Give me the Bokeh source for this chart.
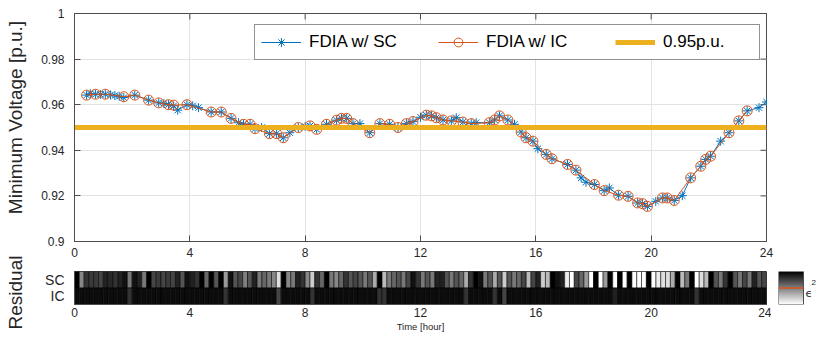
import numpy as np
from bokeh.plotting import figure
from bokeh.layouts import column, row
from bokeh.core.properties import value
from bokeh.models import (Range1d, FactorRange, FixedTicker, CustomJSTickFormatter,
                          Legend, LegendItem, LinearColorMapper, ColumnDataSource)
from bokeh.embed import file_html
from bokeh.resources import INLINE

# ---------------- data ----------------
t_sc = [0.42, 0.55, 0.73, 0.9, 1.07, 1.25, 1.4, 1.55, 1.71, 2.09, 2.57, 2.92, 3.1, 3.26, 3.44,
        3.58, 3.9, 4.1, 4.3, 4.74, 5.09, 5.43, 5.69, 5.86, 6.09, 6.26, 6.49, 6.76, 7.01, 7.24,
        7.47, 7.76, 8.0, 8.17, 8.4, 8.74, 9.09, 9.26, 9.44, 9.66, 9.9, 10.24, 10.59, 10.93,
        11.22, 11.51, 11.74, 12.0, 12.2, 12.38, 12.55, 12.78, 13.07, 13.24, 13.47, 13.76,
        13.93, 14.39, 14.57, 14.74, 15.03, 15.26, 15.49, 15.66, 15.9, 16.07, 16.36, 16.56,
        17.1, 17.39, 17.57, 17.74, 18.03, 18.37, 18.55, 18.87, 19.2, 19.53, 19.7, 19.87,
        20.16, 20.39, 20.56, 20.8, 21.08, 21.37, 21.72, 21.89, 22.06, 22.41, 22.7, 23.04,
        23.33, 23.74, 24.0]
v_sc = [0.9642, 0.9648, 0.9646, 0.9645, 0.9646, 0.9643, 0.9640, 0.9637, 0.9631, 0.9642,
        0.9620, 0.9608, 0.9605, 0.9600, 0.9595, 0.9576, 0.9600, 0.9595, 0.9587, 0.9568,
        0.9568, 0.9540, 0.9521, 0.9514, 0.9514, 0.9495, 0.9500, 0.9473, 0.9473, 0.9455,
        0.9477, 0.9500, 0.9505, 0.9507, 0.9492, 0.9514, 0.9532, 0.9540, 0.9540, 0.9517,
        0.9517, 0.9477, 0.9517, 0.9514, 0.9500, 0.9517, 0.9526, 0.9545, 0.9554, 0.9551,
        0.9543, 0.9533, 0.9529, 0.9543, 0.9524, 0.9517, 0.9521, 0.9521, 0.9533, 0.9551,
        0.9533, 0.9514, 0.9480, 0.9455, 0.9440, 0.9407, 0.9382, 0.9363, 0.9338, 0.9313,
        0.9279, 0.9260, 0.9250, 0.9223, 0.9235, 0.9203, 0.9198, 0.9169, 0.9166, 0.9154,
        0.9176, 0.9191, 0.9191, 0.9180, 0.9201, 0.9279, 0.9330, 0.9360, 0.9374, 0.9440,
        0.9477, 0.9529, 0.9573, 0.9587, 0.9612]

t_ic = [0.42, 0.73, 1.07, 1.71, 2.09, 2.57, 2.92, 3.26, 3.44, 3.9, 4.74, 5.09, 5.43, 5.86,
        6.09, 6.26, 6.76, 7.01, 7.24, 7.76, 8.17, 8.4, 8.74, 9.09, 9.26, 9.44, 9.66, 10.24,
        10.59, 10.93, 11.22, 11.51, 11.74, 12.2, 12.38, 12.55, 12.78, 13.07, 13.47, 13.76,
        14.39, 14.57, 14.74, 15.03, 15.49, 15.66, 15.9, 16.36, 16.56, 17.1, 17.39, 18.03,
        18.37, 18.87, 19.2, 19.53, 19.7, 19.87, 20.39, 20.56, 20.8, 21.37, 21.72, 21.89,
        22.06, 22.7, 23.04, 23.33]
v_ic = [0.9642, 0.9646, 0.9646, 0.9635, 0.9642, 0.9620, 0.9608, 0.9600, 0.9598, 0.9600,
        0.9568, 0.9568, 0.9540, 0.9514, 0.9514, 0.9495, 0.9473, 0.9473, 0.9455, 0.9500,
        0.9507, 0.9492, 0.9514, 0.9532, 0.9540, 0.9540, 0.9517, 0.9477, 0.9517, 0.9514,
        0.9500, 0.9517, 0.9526, 0.9554, 0.9551, 0.9543, 0.9533, 0.9529, 0.9524, 0.9517,
        0.9521, 0.9533, 0.9551, 0.9533, 0.9480, 0.9455, 0.9440, 0.9382, 0.9363, 0.9338,
        0.9313, 0.9250, 0.9223, 0.9203, 0.9198, 0.9169, 0.9166, 0.9154, 0.9191, 0.9191,
        0.9180, 0.9279, 0.9330, 0.9360, 0.9374, 0.9477, 0.9529, 0.9573]

threshold = 0.95
t_start, t_end = 0, 24
v_min, v_max = 0.9, 1.0
x_ticks = [0, 4, 8, 12, 16, 20, 24]
y_ticks = [0.9, 0.92, 0.94, 0.96, 0.98, 1.0]

# residual heat map, 10-minute bins (normalised eps^2, 1 = largest)
bins_per_hour = 6
residual_rows = ["IC", "SC"]
sc_residual = [1.0, 0.47, 0.8, 0.77, 0.77, 0.73, 0.87, 0.84, 0.8, 0.87, 0.93, 0.53, 0.93,
               0.87, 0.53, 1.0, 0.73, 0.77, 0.73, 0.77, 0.73, 0.87, 0.67, 0.93, 0.87, 0.8,
               1.0, 0.6, 1.0, 0.67, 1.0, 0.4, 0.93, 0.67, 0.73, 0.5, 0.67, 0.87, 0.53, 0.6,
               0.53, 0.47, 0.13, 1.0, 0.47, 0.53, 0.87, 0.8, 0.47, 0.2, 0.8, 0.6, 1.0, 0.53,
               0.47, 0.6, 0.8, 0.67, 0.73, 0.67, 0.53, 0.67, 0.33, 1.0, 0.27, 0.53, 0.6, 0.67,
               0.53, 0.73, 0.93, 0.8, 0.53, 0.67, 0.53, 0.87, 0.87, 0.67, 0.53, 0.67, 0.6,
               0.33, 0.8, 1.0, 0.93, 0.53, 0.67, 0.33, 0.67, 0.2, 0.67, 0.53, 0.6, 0.73, 0.27,
               0.73, 0.87, 0.2, 0.27, 1.0, 0.93, 0.87, 0.07, 0.0, 0.73, 0.6, 0.4, 0.0, 1.0,
               0.0, 0.4, 1.0, 0.0, 1.0, 0.0, 1.0, 0.0, 0.0, 0.0, 1.0, 0.0, 0.07, 0.13, 0.13,
               0.33, 1.0, 0.27, 0.53, 1.0, 0.0, 0.13, 0.27, 1.0, 0.67, 0.53, 0.8, 1.0, 0.67,
               0.53, 0.73, 0.53, 0.87, 0.67, 0.73]
ic_residual = [0.95] * 144
for k, v in {11: 0.8, 31: 0.8, 42: 0.73, 49: 0.8, 63: 0.8, 64: 0.8, 81: 0.8, 87: 0.8,
             89: 0.73, 112: 0.87, 129: 0.8}.items():
    ic_residual[k] = v
residual_threshold = 0.5

# ---------------- style ----------------
BLUE = "#0072BD"
ORANGE = "#D95319"
YELLOW = "#EDB120"
AX = "#4d4d4d"
TXT = "#262626"
FONT = "Liberation Sans"


def style_axis(ax, size="12px"):
    ax.axis_line_color = AX
    ax.major_tick_line_color = AX
    ax.minor_tick_line_color = None
    ax.major_tick_out = 0
    ax.major_label_text_font = FONT
    ax.major_label_text_font_size = size
    ax.major_label_text_color = TXT


# ---------------- left label strip ----------------
lab = figure(frame_width=30, frame_height=331, x_range=Range1d(0, 30),
             y_range=Range1d(331, 0), output_backend="svg", toolbar_location=None,
             min_border_left=0, min_border_right=0, min_border_top=0, min_border_bottom=0)
lab.axis.visible = False
lab.grid.visible = False
lab.outline_line_color = None
lab.text(x=[15, 15], y=[117, 292], text=["Minimum Voltage [p.u.]", "Residual"],
         angle=np.pi / 2, text_align="center", text_baseline="middle",
         text_font=value(FONT), text_font_size="19px", text_color=TXT)

# ---------------- main plot ----------------
p1 = figure(frame_width=692, frame_height=228, x_range=Range1d(t_start, t_end),
            y_range=Range1d(v_min, v_max), output_backend="svg", toolbar_location=None,
            min_border_left=44, min_border_right=12, min_border_top=13, min_border_bottom=22)
p1.outline_line_color = AX
p1.xaxis.ticker = FixedTicker(ticks=x_ticks)
p1.yaxis.ticker = FixedTicker(ticks=y_ticks)
p1.yaxis.formatter = CustomJSTickFormatter(code="return String(parseFloat(tick.toFixed(2)));")
style_axis(p1.xaxis[0])
style_axis(p1.yaxis[0])
p1.xaxis.major_tick_in = 6
p1.yaxis.major_tick_in = 6
p1.xaxis.major_label_standoff = 6
p1.yaxis.major_label_standoff = 10
p1.xgrid.grid_line_color = "#e3e3e3"
p1.ygrid.grid_line_color = "#e3e3e3"
# inward ticks on the top and right edges of the box
p1.scatter(x_ticks, [v_max] * len(x_ticks), marker="dash", angle=np.pi / 2, size=12,
           line_color=AX, line_width=1)
p1.scatter([t_end] * len(y_ticks), y_ticks, marker="dash", size=12, line_color=AX, line_width=1)

r_sc_line = p1.line(t_sc, v_sc, line_color=BLUE, line_width=1)
r_sc_mark = p1.scatter(t_sc, v_sc, marker="asterisk", size=9, line_color=BLUE, line_width=1)
r_ic_line = p1.line(t_ic, v_ic, line_color=ORANGE, line_width=1)
r_ic_mark = p1.scatter(t_ic, v_ic, marker="circle", size=10, line_color=ORANGE,
                       fill_color=None, line_width=1)
r_thr = p1.line([t_start, t_end], [threshold, threshold], line_color=YELLOW, line_width=5)

legend = Legend(items=[LegendItem(label="FDIA w/ SC", renderers=[r_sc_line, r_sc_mark]),
                       LegendItem(label="FDIA w/ IC", renderers=[r_ic_line, r_ic_mark]),
                       LegendItem(label="0.95p.u.", renderers=[r_thr])],
                location=(180, 181), orientation="horizontal",
                label_text_font=FONT, label_text_font_size="17px", label_text_color="#000000",
                glyph_width=40, glyph_height=22, label_standoff=8, label_width=90,
                label_height=22, spacing=39, padding=6, margin=0,
                border_line_color="#262626", border_line_width=1)
p1.add_layout(legend)

# ---------------- residual heat map ----------------
n_bins = len(sc_residual)
centers = [(i + 0.5) / bins_per_hour for i in range(n_bins)]
palette = ["#%02x%02x%02x" % (c, c, c) for c in range(255, -1, -1)]  # low=white, high=black
mapper = LinearColorMapper(palette=palette, low=0, high=1)
src = ColumnDataSource(dict(x=centers + centers,
                            y=["SC"] * n_bins + ["IC"] * n_bins,
                            res=sc_residual + ic_residual))

p2 = figure(frame_width=692, frame_height=33, x_range=Range1d(t_start, t_end),
            y_range=FactorRange(factors=residual_rows), output_backend="svg",
            toolbar_location=None, min_border_left=44, min_border_right=5,
            min_border_top=8, min_border_bottom=27)
p2.rect(x="x", y="y", width=1 / bins_per_hour, height=1, source=src,
        fill_color={"field": "res", "transform": mapper}, line_color="#000000",
        line_width=1, line_alpha=0.55)
p2.outline_line_color = AX
p2.grid.visible = False
p2.xaxis.ticker = FixedTicker(ticks=x_ticks)
style_axis(p2.xaxis[0])
style_axis(p2.yaxis[0], "14px")
p2.xaxis.major_tick_in = 0
p2.yaxis.major_tick_in = 0
p2.xaxis.major_label_standoff = 3
p2.yaxis.major_label_standoff = 10
p2.xaxis.axis_label = "Time [hour]"
p2.xaxis.axis_label_text_font = FONT
p2.xaxis.axis_label_text_font_style = "normal"
p2.xaxis.axis_label_text_color = TXT
p2.xaxis.axis_label_text_font_size = "9.5px"
p2.xaxis.axis_label_standoff = 1

# ---------------- colour bar ----------------
p3 = figure(frame_width=40, frame_height=33, x_range=Range1d(0, 40), y_range=Range1d(0, 1),
            output_backend="svg", toolbar_location=None, min_border_left=7,
            min_border_right=1, min_border_top=8, min_border_bottom=27)
p3.axis.visible = False
p3.grid.visible = False
p3.outline_line_color = None
grad = np.linspace(0, 1, 128).reshape(128, 1)
p3.image(image=[grad], x=0, y=0, dw=25, dh=1, color_mapper=mapper)
p3.quad(left=[0], right=[25], bottom=[0], top=[1], fill_color=None, line_color=AX, line_width=1)
p3.line([0, 25], [residual_threshold, residual_threshold], line_color=ORANGE, line_width=1.5)
p3.text(x=[27], y=[0.34], text=["ϵ"], text_font=value("DejaVu Sans"), text_font_size="11px",
        text_baseline="middle", text_color=TXT)
p3.text(x=[33], y=[0.66], text=["2"], text_font=value(FONT), text_font_size="8px",
        text_baseline="middle", text_color=TXT)

layout = row(lab, column(p1, row(p2, p3)))
open("out.html", "w").write(file_html(layout, INLINE))
